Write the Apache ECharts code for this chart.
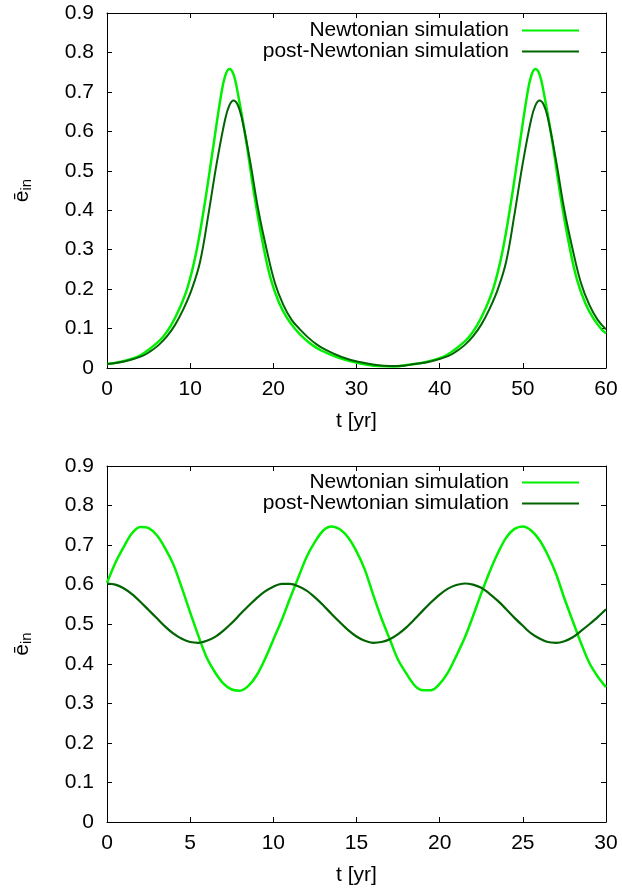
<!DOCTYPE html>
<html><head><meta charset="utf-8">
<script src="https://cdn.jsdelivr.net/npm/echarts@6/dist/echarts.min.js"></script>
<style>html,body{margin:0;padding:0;background:#fff}#c{width:622px;height:893px}</style>
</head><body><div id="c"></div>
<script>
const seriesNames = ['Newtonian simulation', 'post-Newtonian simulation'];
const xTitle = 't [yr]';
const yTitle = '{e|ē}{s|in}';

// Top panel: Newtonian
const topT_N = [0, 1.7, 3.7, 4.7, 5.7, 6.7, 7.7, 8.7, 9.7, 10.7, 11.7, 12.7, 13.7, 14.2, 14.7, 15.2, 15.7, 16.7, 17.7, 18.7, 19.7, 20.7, 21.7, 22.7, 23.7, 24.7, 25.7, 27.7, 29.7, 32.7, 34.5, 36.5, 38.5, 40.5, 41.5, 42.5, 43.5, 44.5, 45.5, 46.5, 47.5, 48.5, 49.5, 50.5, 51.0, 51.5, 52.0, 52.5, 53.5, 54.5, 55.5, 56.5, 57.5, 58.5, 59.5, 60];
const topE_N = [0.010, 0.016, 0.029, 0.042, 0.058, 0.078, 0.108, 0.150, 0.205, 0.290, 0.410, 0.550, 0.690, 0.740, 0.758, 0.745, 0.700, 0.580, 0.440, 0.320, 0.225, 0.165, 0.125, 0.097, 0.075, 0.058, 0.045, 0.027, 0.015, 0.005, 0.004, 0.009, 0.016, 0.029, 0.042, 0.058, 0.078, 0.108, 0.150, 0.205, 0.290, 0.410, 0.550, 0.690, 0.740, 0.758, 0.745, 0.700, 0.580, 0.440, 0.320, 0.225, 0.165, 0.125, 0.097, 0.088];
// Top panel: post-Newtonian
const topT_P = [0, 2.2, 4.2, 5.2, 6.2, 7.2, 8.2, 9.2, 10.2, 11.2, 12.2, 13.2, 14.2, 14.7, 15.2, 15.7, 16.2, 17.2, 18.2, 19.2, 20.2, 21.2, 22.2, 23.2, 24.2, 25.2, 26.2, 28.2, 30.2, 33.2, 35.0, 37.0, 39.0, 41.0, 42.0, 43.0, 44.0, 45.0, 46.0, 47.0, 48.0, 49.0, 50.0, 51.0, 51.5, 52.0, 52.5, 53.0, 54.0, 55.0, 56.0, 57.0, 58.0, 59.0, 60.0];
const topE_P = [0.010, 0.017, 0.030, 0.042, 0.058, 0.080, 0.110, 0.150, 0.200, 0.270, 0.390, 0.520, 0.630, 0.665, 0.678, 0.668, 0.635, 0.525, 0.400, 0.300, 0.215, 0.160, 0.122, 0.098, 0.077, 0.060, 0.047, 0.028, 0.016, 0.006, 0.005, 0.010, 0.017, 0.030, 0.042, 0.058, 0.080, 0.110, 0.150, 0.200, 0.270, 0.390, 0.520, 0.630, 0.665, 0.678, 0.668, 0.635, 0.525, 0.400, 0.300, 0.215, 0.160, 0.122, 0.098];

// Bottom panel (t every 0.5 yr)
const botT = [0, 0.5, 1, 1.5, 2, 2.5, 3, 3.5, 4, 4.5, 5, 5.5, 6, 6.5, 7, 7.5, 8, 8.5, 9, 9.5, 10, 10.5, 11, 11.5, 12, 12.5, 13, 13.5, 14, 14.5, 15, 15.5, 16, 16.5, 17, 17.5, 18, 18.5, 19, 19.5, 20, 20.5, 21, 21.5, 22, 22.5, 23, 23.5, 24, 24.5, 25, 25.5, 26, 26.5, 27, 27.5, 28, 28.5, 29, 29.5, 30];
const botE_N = [0.605, 0.655, 0.695, 0.730, 0.746, 0.743, 0.725, 0.692, 0.650, 0.592, 0.530, 0.470, 0.415, 0.378, 0.350, 0.335, 0.332, 0.344, 0.371, 0.412, 0.461, 0.510, 0.565, 0.618, 0.670, 0.708, 0.737, 0.747, 0.740, 0.719, 0.684, 0.638, 0.575, 0.515, 0.462, 0.410, 0.375, 0.345, 0.333, 0.333, 0.349, 0.378, 0.420, 0.465, 0.520, 0.578, 0.632, 0.680, 0.719, 0.741, 0.747, 0.737, 0.713, 0.675, 0.627, 0.565, 0.508, 0.452, 0.402, 0.368, 0.341];
const botE_P = [0.603, 0.600, 0.591, 0.576, 0.557, 0.536, 0.515, 0.494, 0.476, 0.463, 0.455, 0.453, 0.458, 0.468, 0.484, 0.503, 0.525, 0.546, 0.566, 0.583, 0.595, 0.602, 0.602, 0.596, 0.585, 0.568, 0.548, 0.526, 0.505, 0.485, 0.469, 0.458, 0.453, 0.455, 0.462, 0.475, 0.492, 0.513, 0.535, 0.556, 0.575, 0.590, 0.599, 0.603, 0.600, 0.592, 0.577, 0.559, 0.538, 0.516, 0.496, 0.477, 0.464, 0.455, 0.453, 0.457, 0.467, 0.483, 0.500, 0.518, 0.538];

const zip = (a, b) => a.map((v, i) => [v, b[i]]);
const FONT = "'Liberation Sans', Arial, sans-serif";
const FS = 21;
const GREEN = '#00f000', DARK = '#006400';

function xAx(grid, max, interval, mirror) {
  return {
    type: 'value', gridIndex: grid, min: 0, max: max, interval: interval,
    position: mirror ? 'top' : 'bottom',
    name: mirror ? '' : xTitle, nameLocation: 'middle', nameGap: 43,
    nameTextStyle: { fontSize: FS, color: '#000', fontFamily: FONT },
    axisLine: { show: true, onZero: false, lineStyle: { color: '#000', width: 1 } },
    axisTick: { show: true, inside: true, length: 5, lineStyle: { color: '#000' } },
    axisLabel: { show: !mirror, margin: 11, fontSize: FS, color: '#000', fontFamily: FONT },
    splitLine: { show: false }
  };
}
function yAx(grid, mirror) {
  return {
    type: 'value', gridIndex: grid, min: 0, max: 0.9, interval: 0.1,
    position: mirror ? 'right' : 'left',
    name: mirror ? '' : yTitle, nameLocation: 'middle', nameGap: 73, nameRotate: 90,
    nameTextStyle: { color: '#000', fontFamily: FONT,
      rich: { e: { fontSize: FS, fontFamily: FONT, color: '#000' },
              s: { fontSize: 15, fontFamily: FONT, color: '#000', padding: [9, 0, 0, 0] } } },
    axisLine: { show: true, onZero: false, lineStyle: { color: '#000', width: 1 } },
    axisTick: { show: true, inside: true, length: 5, lineStyle: { color: '#000' } },
    axisLabel: { show: !mirror, margin: 13, fontSize: FS, color: '#000', fontFamily: FONT },
    splitLine: { show: false }
  };
}
function legend(top) {
  return {
    orient: 'vertical', right: 43, top: top, padding: 0, itemGap: 0,
    align: 'right', icon: 'rect', itemWidth: 57, itemHeight: 2,
    selectedMode: false,
    textStyle: { fontSize: FS, lineHeight: 21, color: '#000', fontFamily: FONT, padding: [0, 8, 0, 0] },
    data: [{ name: seriesNames[0], itemStyle: { color: GREEN } },
           { name: seriesNames[1], itemStyle: { color: DARK } }]
  };
}
function line(name, x, y, data, color, width, sm) {
  return { type: 'line', name: name, xAxisIndex: x, yAxisIndex: y, data: data,
    showSymbol: false, symbol: 'none', smooth: sm,
    lineStyle: { color: color, width: width }, itemStyle: { color: color },
    clip: true, animation: false };
}

const chart = echarts.init(document.getElementById('c'), null, { renderer: 'canvas' });
chart.setOption({
  animation: false,
  backgroundColor: '#fff',
  grid: [
    { left: 107, top: 13, width: 499, height: 355, outerBoundsMode: 'none', containLabel: false },
    { left: 107, top: 466, width: 499, height: 356, outerBoundsMode: 'none', containLabel: false }
  ],
  xAxis: [xAx(0, 60, 10, false), xAx(0, 60, 10, true), xAx(1, 30, 5, false), xAx(1, 30, 5, true)],
  yAxis: [yAx(0, false), yAx(0, true), yAx(1, false), yAx(1, true)],
  legend: [legend(20), legend(472)],
  series: [
    line(seriesNames[0], 0, 0, zip(topT_N, topE_N), GREEN, 2.5, 0.4),
    line(seriesNames[1], 0, 0, zip(topT_P, topE_P), DARK, 2, 0.4),
    line(seriesNames[0], 2, 2, zip(botT, botE_N), GREEN, 2.5, 0.3),
    line(seriesNames[1], 2, 2, zip(botT, botE_P), DARK, 2.2, 0.3)
  ]
});
</script>
</body></html>
